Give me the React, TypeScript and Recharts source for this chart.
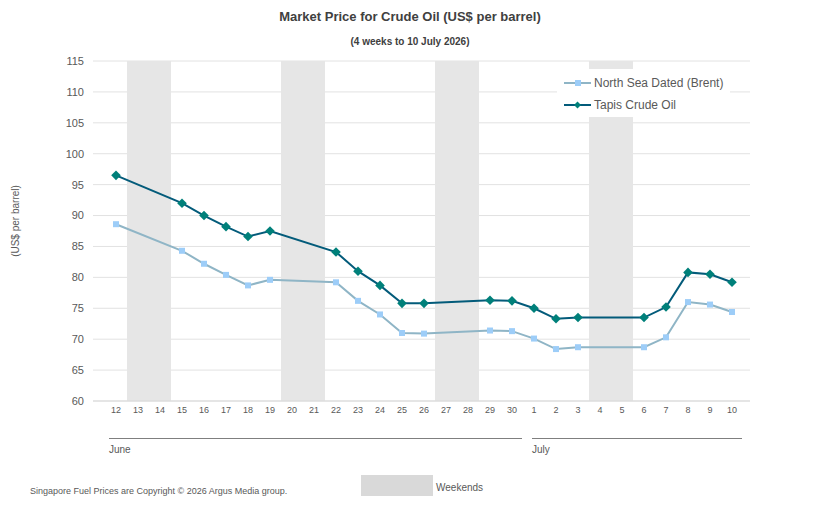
import React from "react";
import { ComposedChart, Line, Bar, XAxis, YAxis, CartesianGrid } from "recharts";

// Trading days, 12 June to 10 July (weekends kept as empty slots)
const days = [
  "12", "13", "14", "15", "16", "17", "18", "19", "20", "21",
  "22", "23", "24", "25", "26", "27", "28", "29", "30",
  "1", "2", "3", "4", "5", "6", "7", "8", "9", "10",
];

const brentPrices: (number | null)[] = [
  88.6, null, null, 84.3, 82.2, 80.4, 78.7, 79.6, null, null,
  79.2, 76.2, 74.0, 71.0, 70.9, null, null, 71.4, 71.3,
  70.1, 68.4, 68.7, null, null, 68.7, 70.3, 76.0, 75.6, 74.4,
];

const tapisPrices: (number | null)[] = [
  96.5, null, null, 92.0, 90.0, 88.2, 86.6, 87.5, null, null,
  84.1, 81.0, 78.7, 75.8, 75.8, null, null, 76.3, 76.2,
  75.0, 73.3, 73.5, null, null, 73.5, 75.2, 80.8, 80.5, 79.2,
];

const weekendDays = ["13", "14", "20", "21", "27", "28", "4", "5"];

const yTicks = [60, 65, 70, 75, 80, 85, 90, 95, 100, 105, 110, 115];
const Y_MIN = 60;
const Y_MAX = 115;

const monthNames = ["June", "July"];

const BRENT_LINE = "#8fb5c6";
const BRENT_DOT = "#9dcdf8";
const TAPIS_LINE = "#035b7a";
const TAPIS_DOT = "#00807a";
const SHADE = "#e6e6e6";
const TEXT = "#595959";
const FONT = "'Liberation Sans', Arial, sans-serif";

const rows = days.map((d, i) => ({
  day: d,
  brent: brentPrices[i],
  tapis: tapisPrices[i],
  shade: weekendDays.includes(d) ? Y_MAX : null,
}));

const SquareDot = (props: any) => {
  const { cx, cy, index, value } = props;
  if (cx == null || cy == null || value == null) return <g key={`s-${index}`} />;
  return <rect key={`s-${index}`} x={cx - 3} y={cy - 3} width={6} height={6} fill={BRENT_DOT} />;
};

const DiamondDot = (props: any) => {
  const { cx, cy, index, value } = props;
  if (cx == null || cy == null || value == null) return <g key={`d-${index}`} />;
  const r = 4.8;
  return (
    <path
      key={`d-${index}`}
      d={`M${cx},${cy - r}L${cx + r},${cy}L${cx},${cy + r}L${cx - r},${cy}Z`}
      fill={TAPIS_DOT}
    />
  );
};

export default function App() {
  return (
    <div
      style={{
        position: "absolute",
        left: 0,
        top: 0,
        width: 820,
        height: 512,
        background: "#ffffff",
        fontFamily: FONT,
        overflow: "hidden",
      }}
    >
      <ComposedChart
        width={820}
        height={512}
        data={rows}
        margin={{ top: 61, right: 70, bottom: 81, left: 53 }}
        barCategoryGap={0}
        barGap={0}
      >
        <CartesianGrid horizontal vertical={false} stroke="#e2e2e2" />
        <XAxis
          dataKey="day"
          height={30}
          padding={{ left: 12, right: 7 }}
          interval={0}
          tickLine={false}
          tickSize={4}
          tickMargin={2}
          axisLine={{ stroke: "#d9d9d9" }}
          tick={{ fontSize: 9, fill: TEXT, fontFamily: FONT }}
        />
        <YAxis
          width={40}
          domain={[Y_MIN, Y_MAX]}
          ticks={yTicks}
          interval={0}
          axisLine={false}
          tickLine={false}
          tickMargin={3}
          tick={{ fontSize: 11, fill: TEXT, fontFamily: FONT }}
        />
        <Bar dataKey="shade" fill={SHADE} isAnimationActive={false} />
        <Line
          dataKey="brent"
          stroke={BRENT_LINE}
          strokeWidth={2}
          connectNulls
          dot={SquareDot}
          activeDot={false}
          isAnimationActive={false}
        />
        <Line
          dataKey="tapis"
          stroke={TAPIS_LINE}
          strokeWidth={2}
          connectNulls
          dot={DiamondDot}
          activeDot={false}
          isAnimationActive={false}
        />
      </ComposedChart>

      {/* Titles */}
      <div
        style={{
          position: "absolute",
          left: 0,
          width: 820,
          top: 9,
          textAlign: "center",
          fontSize: 13,
          fontWeight: "bold",
          color: "#404040",
        }}
      >
        Market Price for Crude Oil (US$ per barrel)
      </div>
      <div
        style={{
          position: "absolute",
          left: 0,
          width: 820,
          top: 36,
          textAlign: "center",
          fontSize: 10,
          fontWeight: "bold",
          color: "#404040",
        }}
      >
        (4 weeks to 10 July 2026)
      </div>

      {/* Y axis title */}
      <div
        style={{
          position: "absolute",
          left: 15,
          top: 221,
          transform: "translate(-50%, -50%) rotate(-90deg)",
          whiteSpace: "nowrap",
          fontSize: 10,
          color: TEXT,
        }}
      >
        (US$ per barrel)
      </div>

      {/* Month brackets */}
      <svg
        width={820}
        height={512}
        style={{ position: "absolute", left: 0, top: 0, pointerEvents: "none" }}
      >
        <line x1={109} x2={522} y1={438.5} y2={438.5} stroke="#7f7f7f" strokeWidth={1} />
        <line x1={532} x2={742} y1={438.5} y2={438.5} stroke="#7f7f7f" strokeWidth={1} />
        <text x={109} y={453} fontSize={10} fill={TEXT} fontFamily={FONT}>
          {monthNames[0]}
        </text>
        <text x={532} y={453} fontSize={10} fill={TEXT} fontFamily={FONT}>
          {monthNames[1]}
        </text>
      </svg>

      {/* Series legend */}
      <div
        style={{
          position: "absolute",
          left: 557,
          top: 69,
          width: 173,
          height: 48,
          background: "#ffffff",
        }}
      >
        <svg width={173} height={48} style={{ position: "absolute", left: 0, top: 0 }}>
          <line x1={7} x2={34} y1={14} y2={14} stroke={BRENT_LINE} strokeWidth={2} />
          <rect x={18} y={11} width={6} height={6} fill={BRENT_DOT} />
          <text x={37} y={18} fontSize={12} fill={TEXT} fontFamily={FONT}>
            North Sea Dated (Brent)
          </text>
          <line x1={7} x2={34} y1={36} y2={36} stroke={TAPIS_LINE} strokeWidth={2} />
          <path d="M20.5,32.5L24,36L20.5,39.5L17,36Z" fill={TAPIS_DOT} />
          <text x={37} y={40} fontSize={12} fill={TEXT} fontFamily={FONT}>
            Tapis Crude Oil
          </text>
        </svg>
      </div>

      {/* Footer */}
      <div
        style={{
          position: "absolute",
          left: 30,
          top: 486,
          fontSize: 9,
          color: TEXT,
          whiteSpace: "nowrap",
        }}
      >
        Singapore Fuel Prices are Copyright © 2026 Argus Media group.
      </div>
      <div
        style={{
          position: "absolute",
          left: 361,
          top: 475,
          width: 72,
          height: 21,
          background: "#d9d9d9",
        }}
      />
      <div
        style={{
          position: "absolute",
          left: 436,
          top: 482,
          fontSize: 10,
          color: TEXT,
          whiteSpace: "nowrap",
        }}
      >
        Weekends
      </div>
    </div>
  );
}
